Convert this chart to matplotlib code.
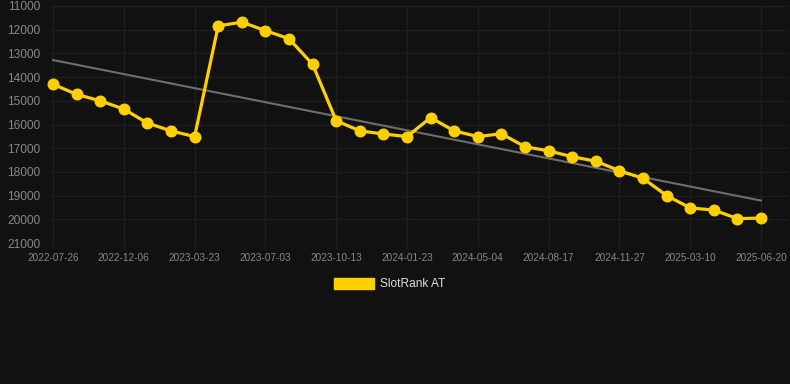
import matplotlib
matplotlib.use('Agg')
import matplotlib.pyplot as plt
from matplotlib.patches import Rectangle
import numpy as np

# Rank values (lower rank is better, axis is inverted)
ranks = [14300, 14730, 15000, 15350, 15940, 16270, 16510, 11840, 11680, 12040,
         12380, 13460, 15840, 16270, 16400, 16510, 15710, 16270, 16510, 16390,
         16940, 17110, 17360, 17550, 17950, 18270, 19000, 19520, 19610, 19970,
         19950]
tick_labels = ['2022-07-26', '2022-12-06', '2023-03-23', '2023-07-03', '2023-10-13',
               '2024-01-23', '2024-05-04', '2024-08-17', '2024-11-27', '2025-03-10',
               '2025-06-20']
trend_ends = [13280, 19210]
y_ticks = [11000, 12000, 13000, 14000, 15000, 16000, 17000, 18000, 19000, 20000, 21000]
series_name = 'SlotRank AT'

bg = '#111111'
grid_c = '#1f1f1f'
yellow = '#FFD000'

plt.rcParams['font.family'] = ['Liberation Sans', 'DejaVu Sans']

W, H = 790, 384
fig = plt.figure(figsize=(W / 100, H / 100), dpi=100, facecolor=bg)
ax = fig.add_axes([50 / W, (H - 243) / H, (788 - 50) / W, (243 - 6) / H])
ax.set_facecolor(bg)

x = np.arange(len(ranks))
step = 23.6
ax.set_xlim(-3 / step, (788 - 53) / step)
ax.set_ylim(21000, 11000)

ax.plot([x[0], x[-1]], trend_ends, color='#6e6e6e', lw=1.5, zorder=2)
ax.plot(x, ranks, color=yellow, lw=2.3, marker='o', markersize=7.6,
        markerfacecolor=yellow, markeredgecolor=yellow, zorder=3, clip_on=False)

ax.set_xticks(x[::3])
ax.set_xticklabels(tick_labels)
ax.set_yticks(y_ticks)
ax.set_yticklabels([str(v) for v in y_ticks])

ax.grid(True, color=grid_c, lw=1)
for s in ax.spines.values():
    s.set_visible(False)
ax.tick_params(axis='x', colors=grid_c, labelcolor='#888888', labelsize=7.2, length=4, pad=3)
ax.tick_params(axis='y', length=0, labelcolor='#888888', labelsize=8.6, pad=7)

# legend
fig.patches.append(Rectangle((334 / W, (H - 289) / H), 40 / W, 11 / H,
                             transform=fig.transFigure, color=yellow))
fig.text(380 / W, (H - 284) / H, series_name, color='#dddddd', fontsize=8.6,
         va='center', ha='left')

fig.savefig('out.png', dpi=100, facecolor=bg)
